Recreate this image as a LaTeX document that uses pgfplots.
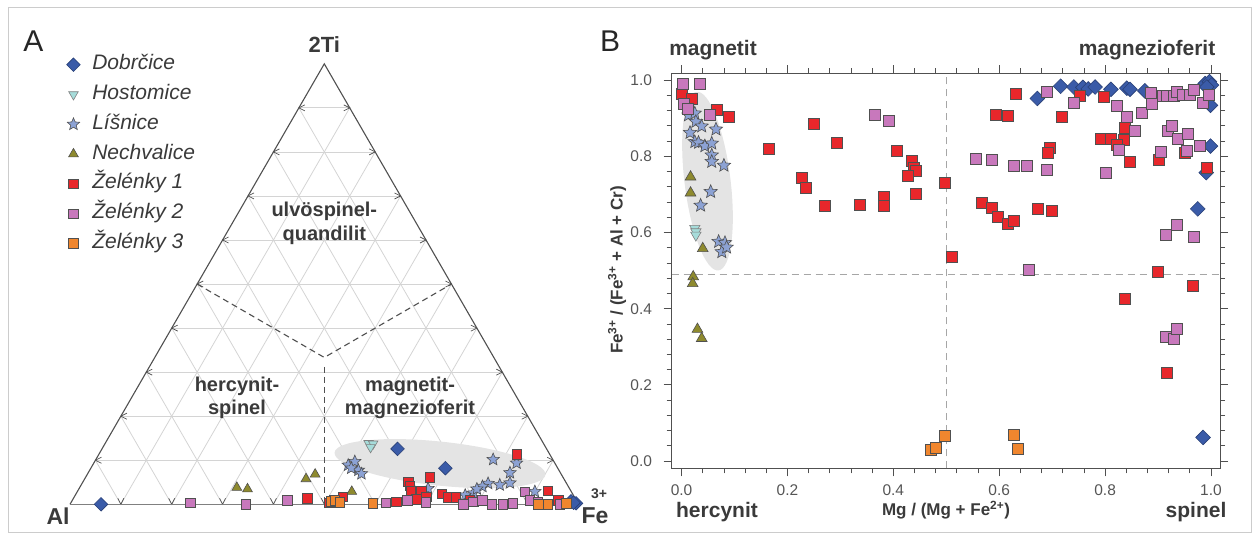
\documentclass[border=0pt]{standalone}
\usepackage{fontspec}
\setmainfont{Liberation Sans}
\usepackage{pgfplots}
\pgfplotsset{compat=1.18}

\definecolor{cblue}{HTML}{3A5BA8}
\definecolor{ccyan}{HTML}{A6DCDA}
\definecolor{cstar}{HTML}{8CA2D4}
\definecolor{colive}{HTML}{8E8A2E}
\definecolor{cred}{HTML}{E8272B}
\definecolor{cpink}{HTML}{C878BC}
\definecolor{corange}{HTML}{F0862E}
\definecolor{edgec}{HTML}{505050}
\definecolor{txt}{HTML}{3A3A3A}
\definecolor{tlab}{HTML}{555555}
\definecolor{gridc}{HTML}{D4D4D4}
\definecolor{ellc}{HTML}{E4E4E4}
\definecolor{framec}{HTML}{CCCCCC}

\pgfdeclareplotmark{fstar}{%
 \pgfpathmoveto{\pgfpointpolar{90}{1\pgfplotmarksize}}%
 \pgfpathlineto{\pgfpointpolar{126}{0.45\pgfplotmarksize}}%
 \pgfpathlineto{\pgfpointpolar{162}{1\pgfplotmarksize}}%
 \pgfpathlineto{\pgfpointpolar{198}{0.45\pgfplotmarksize}}%
 \pgfpathlineto{\pgfpointpolar{234}{1\pgfplotmarksize}}%
 \pgfpathlineto{\pgfpointpolar{270}{0.45\pgfplotmarksize}}%
 \pgfpathlineto{\pgfpointpolar{306}{1\pgfplotmarksize}}%
 \pgfpathlineto{\pgfpointpolar{342}{0.45\pgfplotmarksize}}%
 \pgfpathlineto{\pgfpointpolar{18}{1\pgfplotmarksize}}%
 \pgfpathlineto{\pgfpointpolar{54}{0.45\pgfplotmarksize}}%
 \pgfpathclose
 \pgfusepathqfillstroke}

\pgfplotsset{
 sDob/.style={only marks, mark=square*, mark size=#1, mark options={rotate=45, fill=cblue, draw=cblue!70!black, line width=0.6pt}},
 sHos/.style={only marks, mark=triangle*, mark size=#1, mark options={rotate=180, fill=ccyan, draw=gray, line width=0.6pt}},
 sLis/.style={only marks, mark=fstar, mark size=#1, mark options={fill=cstar, draw=edgec, line width=0.6pt}},
 sNec/.style={only marks, mark=triangle*, mark size=#1, mark options={fill=colive, draw=edgec, line width=0.6pt}},
 sZa/.style={only marks, mark=square*, mark size=#1, mark options={fill=cred, draw=edgec, line width=0.7pt}},
 sZb/.style={only marks, mark=square*, mark size=#1, mark options={fill=cpink, draw=edgec, line width=0.7pt}},
 sZc/.style={only marks, mark=square*, mark size=#1, mark options={fill=corange, draw=edgec, line width=0.7pt}},
}

\begin{document}
\begin{tikzpicture}[x=1pt,y=1pt]
\useasboundingbox (0,0) rectangle (1259,541);
\draw[framec, line width=1pt] (8,8) rectangle (1251,533);

% ---------- ternary frame ----------
\begin{scope}[shift={(70,36.7)}, x=508.6pt, y=508.6pt]
 \foreach \i in {1,...,9} {
   \draw[gridc, line width=0.8pt] ({\i/20},{\i*0.0866025}) -- ({1-\i/20},{\i*0.0866025});
   \draw[gridc, line width=0.8pt] ({\i/10},0) -- ({(1+\i/10)/2},{(1-\i/10)*0.866025});
   \draw[gridc, line width=0.8pt] ({\i/10},0) -- ({\i/20},{\i*0.0866025});
 }
 \fill[ellc, rotate around={-6:(0.7275,0.080)}] (0.7275,0.080) ellipse [x radius=106pt, y radius=22pt];
 \foreach \i in {1,...,9} {
   \draw[edgec, line width=0.7pt] ({\i/20},{\i*0.0866025}) ++(6pt,3pt) -- ++(-6pt,-3pt) -- ++(6pt,-3pt);
   \draw[edgec, line width=0.7pt] ({1-\i/20},{\i*0.0866025}) ++(-6pt,3pt) -- ++(6pt,-3pt) -- ++(-6pt,-3pt);
   \draw[edgec, line width=0.7pt] ({\i/10},0) ++(-3pt,6pt) -- ++(3pt,-6pt) -- ++(3pt,6pt);
 }
 \draw[edgec, line width=1.1pt] (0,0) -- (0.5,0.866025) -- (1,0);
 \draw[gray, line width=1.1pt] (0,0) -- (1,0);
 \draw[edgec, line width=1.1pt, dash pattern=on 6pt off 4pt] (0.25,0.4330) -- (0.5,0.2887) -- (0.75,0.4330);
 \draw[edgec, line width=1.1pt, dash pattern=on 6pt off 4pt] (0.5,0.27) -- (0.5,0);
\end{scope}

% ---------- ternary data (cartesian: base = 1) ----------
\begin{axis}[at={(70pt,36.7pt)}, anchor=south west, scale only axis,
 width=508.6pt, height=440.45pt, xmin=0, xmax=1, ymin=0, ymax=0.866025,
 hide axis, clip=false,
 legend cell align=left,
 legend style={at={(axis description cs:-0.0128,1.0235)}, anchor=north west,
   draw=none, fill=none, text=txt, row sep=11.8pt, column sep=12pt,
   font=\fontsize{21}{25}\selectfont\itshape,
   nodes={inner sep=0pt, text height=14pt, text depth=4pt}}]
\addplot[sDob=4.8pt] table {
x y
0.061 0.0
0.644 0.109
0.738 0.071
0.985 0.006
0.995 0.002
0.990 0.003
};
\addlegendentry{Dobrčice}
\addplot[sHos=5.5pt] table {
x y
0.587 0.120
0.596 0.119
0.591 0.112
};
\addlegendentry{Hostomice}
\addplot[sLis=6.5pt] table {
x y
0.547 0.077
0.560 0.084
0.567 0.067
0.573 0.060
0.553 0.071
0.832 0.088
0.878 0.081
0.865 0.062
0.865 0.042
0.845 0.038
0.822 0.041
0.811 0.035
0.793 0.022
0.704 0.031
0.914 0.025
0.777 0.018
0.800 0.030
};
\addlegendentry{Líšnice}
\addplot[sNec=5.7pt] table {
x y
0.328 0.033
0.349 0.030
0.464 0.050
0.482 0.059
0.554 0.025
};
\addlegendentry{Nechvalice}
\addplot[sZa=4.7pt] table {
x y
0.467 0.012
0.878 0.098
0.537 0.015
0.519 0.008
0.665 0.044
0.668 0.036
0.670 0.027
0.708 0.053
0.691 0.026
0.701 0.015
0.681 0.010
0.642 0.005
0.731 0.020
0.744 0.014
0.759 0.014
0.786 0.008
0.940 0.027
0.960 0.008
0.510 0.003
};
\addlegendentry{Želénky 1}
\addplot[sZb=4.7pt] table {
x y
0.237 0.003
0.346 0.000
0.427 0.008
0.621 0.003
0.663 0.008
0.700 0.004
0.773 0.000
0.793 0.005
0.811 0.008
0.829 0.000
0.851 0.000
0.871 0.002
0.894 0.025
0.904 0.008
0.920 0.004
0.963 0.000
};
\addlegendentry{Želénky 2}
\addplot[sZc=4.7pt] table {
x y
0.514 0.006
0.521 0.008
0.530 0.004
0.596 0.002
0.921 0.000
0.940 0.000
0.976 0.002
};
\addlegendentry{Želénky 3}
\end{axis}

% ---------- right panel ----------
\begin{axis}[at={(671.5pt,72.7pt)}, anchor=south west, scale only axis,
 width=548.5pt, height=395pt,
 xmin=-0.019, xmax=1.017, ymin=-0.019, ymax=1.018,
 xtick={0,0.2,0.4,0.6,0.8,1}, ytick={0,0.2,0.4,0.6,0.8,1}, minor tick num=4,
 tick align=outside, major tick length=8pt, minor tick length=5pt,
 axis line style={edgec, line width=0.9pt},
 every tick/.style={edgec, line width=0.8pt},
 ticklabel style={font=\fontsize{15.5}{18}\selectfont, text=tlab},
 xticklabel style={yshift=-4.5pt},
 yticklabel style={xshift=-8pt},
 /pgf/number format/fixed, /pgf/number format/fixed zerofill,
 /pgf/number format/precision=1, /pgf/number format/assume math mode=true,
 clip=false]
\fill[ellc, rotate around={7:(axis cs:0.049,0.735)}] (axis cs:0.049,0.735) ellipse [x radius=23pt, y radius=90pt];
\draw[gray!70, line width=1pt, dash pattern=on 7pt off 5pt] (axis cs:0.5,-0.019) -- (axis cs:0.5,1.018);
\draw[gray!70, line width=1pt, dash pattern=on 7pt off 5pt] (axis cs:-0.019,0.49) -- (axis cs:1.017,0.49);
\addplot[sDob=5.2pt] table {
x y
0.672 0.952
0.716 0.984
0.741 0.982
0.758 0.981
0.768 0.977
0.781 0.982
0.811 0.976
0.841 0.979
0.847 0.976
0.875 0.972
0.989 0.991
0.997 0.996
1.001 0.987
0.992 0.982
0.999 0.934
0.999 0.827
0.991 0.757
0.975 0.662
0.985 0.062
};
\addplot[sHos=6pt] table {
x y
0.025 0.611
0.027 0.602
0.027 0.593
};
\addplot[sLis=7pt] table {
x y
0.013 0.908
0.025 0.913
0.027 0.891
0.038 0.879
0.016 0.862
0.065 0.871
0.025 0.838
0.032 0.836
0.044 0.827
0.057 0.834
0.057 0.803
0.057 0.786
0.080 0.776
0.055 0.707
0.036 0.671
0.070 0.576
0.082 0.573
0.076 0.549
0.085 0.561
};
\addplot[sNec=6.2pt] table {
x y
0.017 0.746
0.017 0.704
0.040 0.558
0.022 0.484
0.021 0.466
0.030 0.346
0.038 0.322
};
\addplot[sZa=5.5pt] table {
x y
0.001 0.963
0.019 0.951
0.066 0.923
0.090 0.904
0.164 0.819
0.250 0.884
0.294 0.836
0.227 0.744
0.234 0.718
0.270 0.670
0.337 0.672
0.382 0.694
0.382 0.670
0.406 0.815
0.435 0.787
0.438 0.771
0.443 0.761
0.428 0.748
0.443 0.701
0.498 0.731
0.510 0.535
0.631 0.965
0.753 0.958
0.797 0.956
0.594 0.910
0.616 0.906
0.719 0.904
0.838 0.874
0.792 0.846
0.811 0.845
0.836 0.843
0.822 0.830
0.695 0.823
0.692 0.808
0.846 0.786
0.901 0.790
0.950 0.808
0.992 0.770
0.568 0.679
0.587 0.666
0.597 0.641
0.616 0.624
0.627 0.631
0.673 0.661
0.699 0.656
0.899 0.498
0.965 0.459
0.838 0.425
0.917 0.232
};
\addplot[sZb=5.5pt] table {
x y
0.003 0.990
0.034 0.990
0.005 0.937
0.012 0.925
0.054 0.909
0.365 0.908
0.392 0.892
0.690 0.968
0.740 0.941
0.823 0.933
0.841 0.904
0.856 0.867
0.870 0.915
0.887 0.967
0.888 0.939
0.909 0.959
0.917 0.958
0.929 0.960
0.935 0.969
0.947 0.961
0.960 0.961
0.968 0.974
0.985 0.940
0.995 0.962
0.919 0.867
0.926 0.879
0.937 0.846
0.957 0.858
0.979 0.827
0.954 0.815
0.905 0.811
0.826 0.816
0.801 0.757
0.556 0.794
0.586 0.791
0.628 0.774
0.652 0.774
0.690 0.764
0.914 0.593
0.936 0.619
0.968 0.589
0.655 0.503
0.915 0.325
0.930 0.320
0.936 0.346
};
\addplot[sZc=5.5pt] table {
x y
0.471 0.029
0.481 0.035
0.498 0.066
0.628 0.069
0.635 0.033
};
\end{axis}

% ---------- texts ----------
\node[text=black!85, font=\fontsize{30}{34}\selectfont] at (33.5,500) {A};
\node[text=black!85, font=\fontsize{30}{34}\selectfont] at (610,500) {B};
\node[text=txt, font=\bfseries\fontsize{22}{26}\selectfont] at (324.3,496) {2Ti};
\node[text=txt, font=\bfseries\fontsize{23}{27}\selectfont] at (58,25) {Al};
\node[text=txt, font=\bfseries\fontsize{23}{27}\selectfont] at (595,25) {Fe};
\node[text=txt, font=\bfseries\fontsize{14}{16}\selectfont] at (599,47) {3+};
\node[text=txt, font=\bfseries\fontsize{20}{23.5}\selectfont, align=center] at (324.3,317.5) {ulvöspinel-\\quandilit};
\node[text=txt, font=\bfseries\fontsize{20}{23.5}\selectfont, align=center] at (237,143) {hercynit-\\spinel};
\node[text=txt, font=\bfseries\fontsize{20}{23.5}\selectfont, align=center] at (410,143) {magnetit-\\magnezioferit};
\node[text=txt, font=\bfseries\fontsize{21}{25}\selectfont] at (713,491) {magnetit};
\node[text=txt, font=\bfseries\fontsize{21}{25}\selectfont] at (1147,491) {magnezioferit};
\node[text=txt, font=\bfseries\fontsize{21}{25}\selectfont] at (717,29) {hercynit};
\node[text=txt, font=\bfseries\fontsize{21}{25}\selectfont] at (1196,29) {spinel};
\node[text=txt, font=\bfseries\fontsize{17}{20}\selectfont] at (946,31) {Mg / (Mg + Fe\textsuperscript{2+})};
\node[text=txt, font=\bfseries\fontsize{17}{20}\selectfont, rotate=90] at (617,271) {Fe\textsuperscript{3+} / (Fe\textsuperscript{3+} + Al + Cr)};
\end{tikzpicture}
\end{document}
